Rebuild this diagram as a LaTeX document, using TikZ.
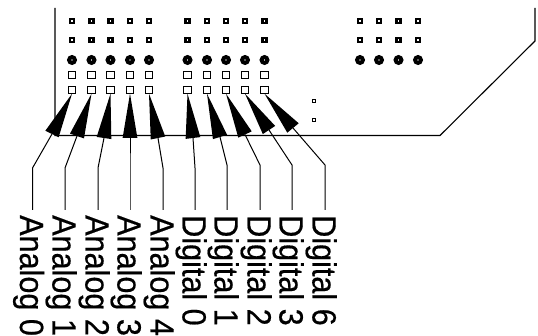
\documentclass[tikz,border=0pt]{standalone}
\usepackage{fontspec}
\setmainfont[FakeBold=0.5]{Liberation Sans}
\usepackage{graphicx}
\usetikzlibrary{calc}
\tikzset{
  x=1pt,y=-1pt,
  openpad/.style={draw=black,fill=white,line width=1.2pt,minimum size=7.4pt,inner sep=0pt,outer sep=0pt,shape=rectangle},
  squarepad/.style={draw=black,fill=white,line width=2.5pt,minimum size=4.4pt,inner sep=0pt,outer sep=0pt,shape=rectangle},
  roundpad/.style={draw=black,fill=white,line width=4pt,minimum size=5.8pt,inner sep=0pt,outer sep=0pt,shape=circle},
  tinypad/.style={draw=black,fill=white,line width=1.6pt,minimum size=3pt,inner sep=0pt,outer sep=0pt,shape=rectangle},
  outline/.style={draw=black,line width=1.1pt},
  leader/.style={draw=black,line width=1pt},
  pinlabel/.style={rotate=-90,anchor=base west,inner sep=0pt,font=\fontsize{30.6}{30}\selectfont},
}
\begin{document}
\begin{tikzpicture}
\useasboundingbox (0,0) rectangle (538,336);
\fill[white] (0,0) rectangle (538,336);
% board outline
\coordinate (b1) at (55,8);
\coordinate (b2) at (55,135.5);
\coordinate (b3) at (440,135.5);
\coordinate (b4) at (535,41);
\coordinate (b5) at (535,8);
\draw[outline] (b1) -- (b2) -- (b3) -- (b4) -- (b5);
% pad columns
\foreach \n/\x in {p0/72,p1/91.5,p2/110.5,p3/130,p4/149,p5/187.5,p6/207,p7/226,p8/245,p9/264.5}{
  \node[squarepad] (\n a) at (\x,21) {};
  \node[squarepad] (\n b) at (\x,40) {};
  \node[roundpad] (\n c) at (\x,60) {};
  \node[openpad] (\n d) at (\x,75) {};
  \node[openpad] (\n e) at (\x,90) {};
}
\foreach \n/\x in {q0/360,q1/379,q2/398.5,q3/418}{
  \node[squarepad] (\n a) at (\x,21) {};
  \node[squarepad] (\n b) at (\x,40) {};
  \node[roundpad] (\n c) at (\x,60) {};
}
\node[tinypad] (t0) at (314,101) {};
\node[tinypad] (t1) at (314,120) {};
% labels, leaders and arrowheads
\foreach \n/\lx/\bx/\by/\ex/\ey/\txt in {
  p0/32.5/32.5/168/52/134/Analog 0,
  p1/65/65/168/77/136/Analog 1,
  p2/98/98/168/104/138/Analog 2,
  p3/130/130/168/130/138/Analog 3,
  p4/163/163/168/158/138/Analog 4,
  p5/195/195/168/193/138/Digital 0,
  p6/227/227/165/220/137/Digital 1,
  p7/260/260/165/245/134.5/Digital 2,
  p8/292/292/165/269/130/Digital 3,
  p9/325/325/165/293/128/Digital 6}{
  \node[pinlabel] (\n lab) at ({\lx-12.5},215) {\scalebox{1}[1.1]{\txt}};
  \coordinate (\n lead) at (\lx,210);
  \coordinate (\n bend) at (\bx,\by);
  \coordinate (\n base) at (\ex,\ey);
  \draw[leader] (\n lead) -- (\n bend) -- (\n base);
  \fill[black] (\n e.south) -- ($(\n base)!7.4pt!90:(\n e.south)$) -- ($(\n base)!7.4pt!-90:(\n e.south)$) -- cycle;
}
\end{tikzpicture}
\end{document}
